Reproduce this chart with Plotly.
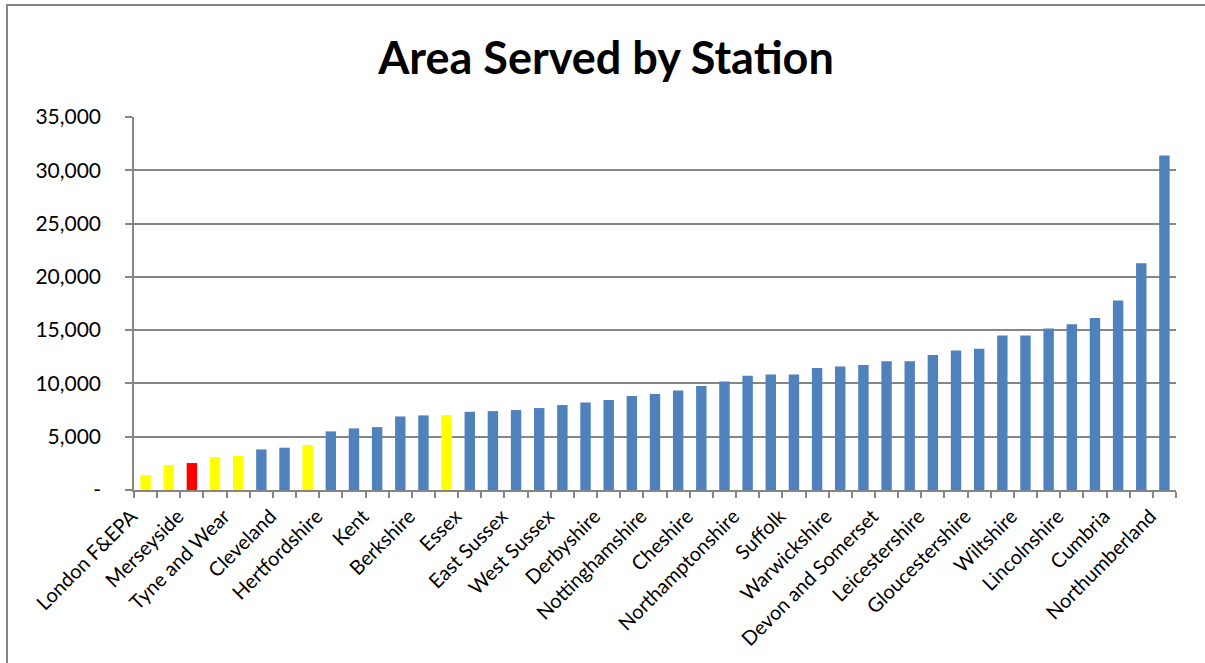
import plotly.graph_objects as go

# Categories (every other label is shown on the axis, as in the reference)
services = [
    "London F&EPA", "West Midlands", "Merseyside", "Greater Manchester", "Tyne and Wear",
    "Avon", "Cleveland", "West Yorkshire", "Hertfordshire", "Bedfordshire",
    "Kent", "Surrey", "Berkshire", "South Yorkshire", "Essex",
    "Buckinghamshire", "East Sussex", "Hampshire", "West Sussex", "Lancashire",
    "Derbyshire", "Staffordshire", "Nottinghamshire", "Durham", "Cheshire",
    "Humberside", "Northamptonshire", "Cambridgeshire", "Suffolk", "Hereford and Worcester",
    "Warwickshire", "Oxfordshire", "Devon and Somerset", "Dorset", "Leicestershire",
    "Isle of Wight", "Gloucestershire", "Norfolk", "Wiltshire", "Shropshire",
    "Lincolnshire", "Cornwall", "Cumbria", "North Yorkshire", "Northumberland",
]

area_per_station = [
    1400, 2340, 2530, 3090, 3190,
    3810, 3970, 4220, 5500, 5780,
    5900, 6900, 7000, 7030, 7340,
    7400, 7500, 7690, 7970, 8220,
    8440, 8810, 9000, 9340, 9750,
    10190, 10720, 10840, 10840, 11440,
    11590, 11720, 12090, 12090, 12660,
    13090, 13250, 14500, 14500, 15160,
    15560, 16130, 17780, 21280, 31380,
]

# Service group: metro (yellow), highlighted (red), other (blue)
group = [
    "metro", "metro", "highlight", "metro", "metro",
    "other", "other", "metro", "other", "other",
    "other", "other", "other", "metro", "other",
] + ["other"] * 30

group_colors = {"metro": "#FFFF00", "highlight": "#FF0000", "other": "#4F81BD"}

y_ticks = [0, 5000, 10000, 15000, 20000, 25000, 30000, 35000]
y_tick_text = ["-", "5,000", "10,000", "15,000", "20,000", "25,000", "30,000", "35,000"]

x_tick_text = [s if i % 2 == 0 else "" for i, s in enumerate(services)]

FONT = "Lato, Calibri, Arial, sans-serif"
GRAY = "#868686"

W, H = 1205, 663
L, R, T, B = 134, 29, 117, 173
PW, PH = W - L - R, H - T - B

fig = go.Figure(
    go.Bar(
        x=services,
        y=area_per_station,
        marker=dict(color=[group_colors[g] for g in group], line=dict(width=0)),
        hoverinfo="x+y",
    )
)

fig.update_layout(
    width=W,
    height=H,
    margin=dict(l=L, r=R, t=T, b=B),
    paper_bgcolor="white",
    plot_bgcolor="white",
    showlegend=False,
    font=dict(family=FONT, color="black", size=20),
    title=dict(
        text="<b>Area Served by Station</b>",
        font=dict(family=FONT, size=45, color="black"),
        xref="container", x=606 / W, xanchor="center",
        yref="container", y=1 - 58 / H, yanchor="middle",
    ),
    bargap=0.55,
)

fig.update_xaxes(
    type="category",
    tickmode="array",
    tickvals=services,
    ticktext=x_tick_text,
    tickangle=-45,
    tickson="boundaries",
    ticks="outside",
    ticklen=6,
    tickcolor=GRAY,
    tickwidth=1.5,
    showline=True,
    linecolor=GRAY,
    linewidth=1.5,
    showgrid=False,
    ticklabelstandoff=5,
    ticklabelshift=-14,
    tickfont=dict(family=FONT, size=20, color="black"),
    range=[-0.5, len(services) - 0.5],
)

fig.update_yaxes(
    range=[0, 35000],
    tickmode="array",
    tickvals=y_ticks,
    ticktext=y_tick_text,
    ticks="outside",
    ticklen=7,
    tickcolor=GRAY,
    tickwidth=1.5,
    showline=True,
    linecolor=GRAY,
    linewidth=1.5,
    showgrid=True,
    gridcolor=GRAY,
    gridwidth=1.5,
    zeroline=False,
    ticklabelstandoff=20,
    tickfont=dict(family=FONT, size=21, color="black"),
)

# Chart frame (top and left edges visible in the reference)
def px_x(x):
    return (x - L) / PW

def px_y(y):
    return (H - B - y) / PH

fig.add_shape(type="line", xref="paper", yref="paper",
              x0=px_x(6), x1=px_x(W), y0=px_y(5), y1=px_y(5),
              line=dict(color=GRAY, width=2))
fig.add_shape(type="line", xref="paper", yref="paper",
              x0=px_x(7), x1=px_x(7), y0=px_y(5), y1=px_y(H),
              line=dict(color=GRAY, width=2))

fig.write_html(
    "out.html",
    config={"displayModeBar": False},
    post_script="document.body.style.margin='0px';document.body.style.overflow='hidden';",
)
